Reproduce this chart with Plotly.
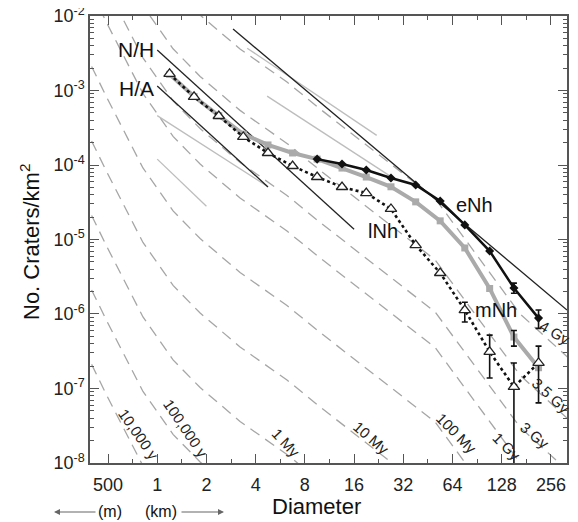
import plotly.graph_objects as go
import math

# ---------------- data ----------------
# crater diameter bins (km), root-2 bins
diam = [1.19, 1.68, 2.38, 3.36, 4.76, 6.73, 9.51, 13.5, 19.0, 26.9, 38.1, 53.8, 76.1, 108, 152, 215]

# lNh (open triangles, dotted)
lnh = [1.67e-3, 8.2e-4, 4.55e-4, 2.38e-4, 1.45e-4, 9.7e-5, 6.9e-5, 5.07e-5, 4.2e-5, 2.57e-5,
       8.4e-6, 3.55e-6, 1.13e-6, 3.1e-7, 1.05e-7, 2.2e-7]
lnh_err_d = [76.1, 108, 152, 215]
lnh_err_v = [1.13e-6, 3.1e-7, 1.05e-7, 2.2e-7]
lnh_err_hi = [1.44e-6, 5.2e-7, 2.2e-7, 3.7e-7]
lnh_err_lo = [7.8e-7, 1.38e-7, 1e-9, 6.4e-8]

# mNh (gray squares)
mnh = [1.65e-3, 8.3e-4, 4.6e-4, 2.6e-4, 1.86e-4, 1.45e-4, 1.2e-4, 9.1e-5, 6.9e-5, 5.1e-5,
       3.2e-5, 1.78e-5, 7.7e-6, 2.2e-6, 4.9e-7, 1.9e-7]
mnh_err_d = [152]
mnh_err_v = [4.9e-7]
mnh_err_hi = [6.0e-7]
mnh_err_lo = [3.7e-7]

# eNh (black diamonds)
enh_d = [9.51, 13.5, 19.0, 26.9, 38.1, 53.8, 76.1, 108, 152, 215]
enh = [1.2e-4, 1.03e-4, 8.57e-5, 6.7e-5, 5.4e-5, 3.29e-5, 1.57e-5, 7.0e-6, 2.23e-6, 8.8e-7]
enh_err_d = [152, 215]
enh_err_v = [2.23e-6, 8.8e-7]
enh_err_hi = [2.6e-6, 1.13e-6]
enh_err_lo = [1.9e-6, 6.4e-7]

# reference lines
sat_d = [2.91, 321]
sat_n = [6.7e-3, 1.13e-6]
nh_d = [1, 16]
nh_n = [3.5e-3, 1.37e-5]
ha_d = [1, 4.76]
ha_n = [1.15e-3, 5.07e-5]

# isochron shape (1 Gy) and age factors
iso_d = [0.355, 0.493, 0.818, 1.25, 1.83, 3.21, 6.22, 9.91, 50.1, 166, 398]
iso_n = [3.47e-2, 7.94e-3, 9.12e-4, 2.42e-4, 1.03e-4, 3.61e-5, 1.30e-5, 5.65e-6, 3.55e-7, 1.0e-8, 1.74e-9]
iso_ages = ["10,000 y", "100,000 y", "1 My", "10 My", "100 My", "1 Gy", "3 Gy", "3.5 Gy", "4 Gy"]
iso_factor = [1e-5, 1e-4, 1e-3, 1e-2, 0.1, 1, 3, 15, 100]

# light gray solid reference lines
solid_d = [[1, 4.7], [1, 2.0], [3.55, 22], [4.7, 26.6]]
solid_n = [[4.6e-4, 5.2e-5], [1.2e-4, 2.8e-5], [3.7e-3, 2.5e-4], [8.4e-4, 7.1e-5]]

x_tickvals = [0.5, 1, 2, 4, 8, 16, 32, 64, 128, 256]
x_ticktext = ["500", "1", "2", "4", "8", "16", "32", "64", "128", "256"]
y_tickvals = [1e-8, 1e-7, 1e-6, 1e-5, 1e-4, 1e-3, 1e-2]
y_ticktext = ["10<sup>-8</sup>", "10<sup>-7</sup>", "10<sup>-6</sup>", "10<sup>-5</sup>",
              "10<sup>-4</sup>", "10<sup>-3</sup>", "10<sup>-2</sup>"]

# ---------------- figure ----------------
FONT = "Arial, Liberation Sans, sans-serif"
OFF = 8                      # default page body margin
W, H = 578 - OFF, 522 - OFF
# plot area in screenshot pixels: left 90, right 567, top 16, bottom 463
L, R, T, B = 90 - OFF, W - (567 - OFF), 16 - OFF, H - (463 - OFF)
PW, PH = W - L - R, H - T - B

def px(x):  # screenshot x -> paper
    return (x - OFF - L) / PW

def py(y):  # screenshot y -> paper
    return (H - B - (y - OFF)) / PH

fig = go.Figure()

for f in iso_factor:
    fig.add_trace(go.Scatter(x=iso_d, y=[v * f for v in iso_n], mode="lines",
                             line=dict(color="#a6a6a6", width=1.3, dash="11px,7px"),
                             hoverinfo="skip", showlegend=False))

for sd, sn in zip(solid_d, solid_n):
    fig.add_trace(go.Scatter(x=sd, y=sn, mode="lines",
                             line=dict(color="#bdbdbd", width=1.3),
                             hoverinfo="skip", showlegend=False))

for d, n in [(sat_d, sat_n), (nh_d, nh_n), (ha_d, ha_n)]:
    fig.add_trace(go.Scatter(x=d, y=n, mode="lines", line=dict(color="#222", width=1.3),
                             hoverinfo="skip", showlegend=False))

# mNh
fig.add_trace(go.Scatter(x=diam, y=mnh, mode="lines+markers",
                         line=dict(color="#aaaaaa", width=4),
                         marker=dict(symbol="square", size=7, color="#aaaaaa"),
                         showlegend=False))
# eNh
fig.add_trace(go.Scatter(x=enh_d, y=enh, mode="lines+markers",
                         line=dict(color="#111", width=2.5),
                         marker=dict(symbol="diamond", size=7, color="#111"),
                         showlegend=False))
# lNh
fig.add_trace(go.Scatter(x=diam, y=lnh, mode="lines",
                         line=dict(color="#111", width=2.6, dash="dot"),
                         showlegend=False))

def err_trace(xd, v, hi, lo):
    return go.Scatter(x=xd, y=v, mode="markers", marker=dict(size=1, opacity=0),
                      error_y=dict(type="data", symmetric=False,
                                   array=[h - a for h, a in zip(hi, v)],
                                   arrayminus=[a - l for a, l in zip(v, lo)],
                                   color="#111", thickness=1.6, width=3),
                      hoverinfo="skip", showlegend=False)

fig.add_trace(err_trace(lnh_err_d, lnh_err_v, lnh_err_hi, lnh_err_lo))
fig.add_trace(err_trace(mnh_err_d, mnh_err_v, mnh_err_hi, mnh_err_lo))
fig.add_trace(err_trace(enh_err_d, enh_err_v, enh_err_hi, enh_err_lo))

fig.add_trace(go.Scatter(x=diam, y=lnh, mode="markers",
                         marker=dict(symbol="triangle-up", size=10, color="white",
                                     line=dict(color="#222", width=1.3)),
                         hoverinfo="skip", showlegend=False))

x_minor = [v * math.sqrt(2) for v in [0.25] + x_tickvals]
y_minor = [m * 10 ** e for e in range(-9, -1) for m in range(2, 10)]

axis_common = dict(type="log", showgrid=False, zeroline=False, showline=True,
                   linecolor="#555", linewidth=1.5, mirror="ticks", automargin=False,
                   ticks="inside", tickcolor="#555", tickwidth=1.3,
                   ticklabeloverflow="allow",
                   tickfont=dict(family=FONT, size=18, color="#222"))

fig.update_xaxes(**axis_common, range=[math.log10(0.388), math.log10(321)],
                 tickmode="array", tickvals=x_tickvals, ticktext=x_ticktext, ticklen=9,
                 ticklabelstandoff=5,
                 minor=dict(tickmode="array", tickvals=x_minor, ticks="inside",
                            ticklen=4, tickcolor="#555", tickwidth=1.2))
fig.update_yaxes(**axis_common, range=[-8.0005, -1.9995],
                 tickmode="array", tickvals=y_tickvals, ticktext=y_ticktext, ticklen=9,
                 minor=dict(tickmode="array", tickvals=y_minor, ticks="inside",
                            ticklen=4, tickcolor="#555", tickwidth=1.0))

ann = []
def txt(x, y, s, size=19, angle=0, color="#111"):
    ann.append(dict(x=px(x), y=py(y), xref="paper", yref="paper", text=s, showarrow=False,
                    textangle=angle, font=dict(family=FONT, size=size, color=color),
                    xanchor="center", yanchor="middle"))

txt(136, 49, "N/H", 21)
txt(136, 88, "H/A", 21)
txt(474, 205, "eNh", 20)
txt(383, 231, "lNh", 20)
txt(496, 310, "mNh", 20)

iso_lab_pos = [(139, 434, 55), (186, 428, 56), (286, 442, 47), (371, 437, 41),
               (457, 433, 45), (507, 446, 45), (535, 435, 40), (551, 395, 42), (555, 332, 30)]
for lab, (x, y, a) in zip(iso_ages, iso_lab_pos):
    txt(x, y, lab, 15, a, "#222")

txt(30, 242, "No. Craters/km<sup>2</sup>", 22, -90)
txt(316, 507, "Diameter", 22)
txt(110, 511, "(m)", 16)
txt(161, 511, "(km)", 16)
ann.append(dict(x=px(54), y=py(512), xref="paper", yref="paper", text="", showarrow=True,
                ax=43, ay=0, arrowhead=2, arrowsize=1, arrowwidth=1.2, arrowcolor="#666"))
ann.append(dict(x=px(224), y=py(512), xref="paper", yref="paper", text="", showarrow=True,
                ax=-44, ay=0, arrowhead=2, arrowsize=1, arrowwidth=1.2, arrowcolor="#666"))

fig.update_layout(width=W, height=H, margin=dict(l=L, r=R, t=T, b=B, autoexpand=False),
                  paper_bgcolor="white", plot_bgcolor="white",
                  annotations=ann, font=dict(family=FONT))

fig.write_html("out.html")
